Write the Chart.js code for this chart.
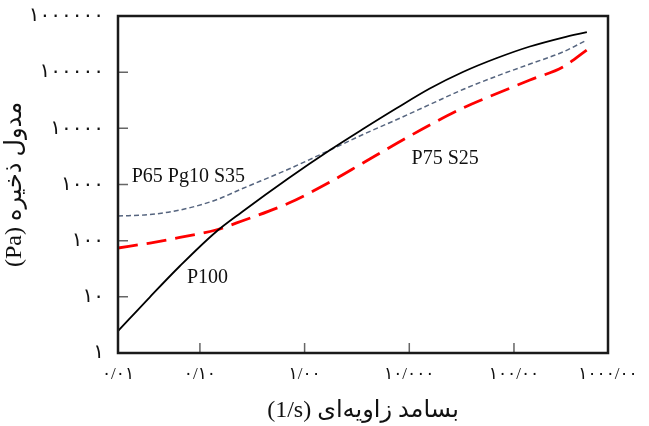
<!DOCTYPE html>
<html>
<head>
<meta charset="utf-8">
<script src="https://cdn.jsdelivr.net/npm/chart.js@4"></script>
<style>body { margin: 0; background: #fff; }</style>
</head>
<body>
<canvas id="modulusChart" width="649" height="426"></canvas>
<script>
// بسامد زاویه‌ای (1/s) - خوانده شده از تصویر
const frequencies = [0.0165, 0.0333, 0.0644, 0.142, 0.252, 0.708, 1.75, 3.61, 7.62, 15.7, 32.5, 68.7, 142, 293, 497];
// مدول ذخیره (Pa)
const p100 = [2.46, 9.93, 35.4, 143, 324, 1305, 4110, 9720, 23000, 51200, 100700, 178600, 286400, 414000, 518600];
const p65pg10s35 = [275, 292, 351, 530, 838, 1888, 4110, 7760, 14360, 26550, 49100, 85400, 139600, 228400, 373500];
const p75s25 = [74, 90.8, 114, 155, 224, 468, 1107, 2415, 5410, 11460, 23000, 41700, 72400, 123600, 247900];

const seriesNames = ['P100', 'P65 Pg10 S35', 'P75 S25'];

const xTickValues = [0.0165, 0.1, 1, 10, 100, 791];
const xTickLabels = ['۰/۰۱', '۰/۱۰', '۱/۰۰', '۱۰/۰۰۰', '۱۰۰/۰۰', '۱۰۰۰/۰۰'];
const yTickValues = [1, 10, 100, 1000, 10000, 100000, 1000000];
const yTickLabels = ['۱', '۱۰', '۱۰۰', '۱۰۰۰', '۱۰۰۰۰', '۱۰۰۰۰۰', '۱۰۰۰۰۰۰'];

// نام منحنی‌ها روی نمودار (در واحد داده)
const curveNotes = [
    { text: seriesNames[0], x: 0.0751, y: 17.6 },
    { text: seriesNames[1], x: 0.0223, y: 1107 },
    { text: seriesNames[2], x: 10.5, y: 2316 }
];

const toPoints = values => frequencies.map((f, i) => ({ x: f, y: values[i] }));
const fontFamily = '"Liberation Serif", "DejaVu Sans", serif';

// قاب، تیک‌های داخلی و برچسب منحنی‌ها
const framePlugin = {
    id: 'frame',
    afterDraw(chart) {
        const { ctx, chartArea: a, scales } = chart;
        ctx.save();
        ctx.strokeStyle = '#666';
        ctx.lineWidth = 1.5;
        ctx.beginPath();
        xTickValues.slice(1, -1).forEach(v => {
            const px = scales.x.getPixelForValue(v);
            ctx.moveTo(px, a.bottom);
            ctx.lineTo(px, a.bottom - 10);
        });
        yTickValues.forEach(v => {
            const py = scales.y.getPixelForValue(v);
            ctx.moveTo(a.left, py);
            ctx.lineTo(a.left + 10, py);
        });
        ctx.stroke();

        ctx.strokeStyle = '#1a1a1a';
        ctx.lineWidth = 2.5;
        ctx.strokeRect(a.left, a.top, a.right - a.left, a.bottom - a.top);

        ctx.fillStyle = '#111';
        ctx.font = '20px "Liberation Serif"';
        ctx.textAlign = 'left';
        ctx.textBaseline = 'alphabetic';
        curveNotes.forEach(n => {
            ctx.fillText(n.text, scales.x.getPixelForValue(n.x), scales.y.getPixelForValue(n.y));
        });
        ctx.restore();
    }
};

new Chart(document.getElementById('modulusChart'), {
    type: 'line',
    data: {
        datasets: [{
            label: seriesNames[0],
            data: toPoints(p100),
            borderColor: '#000000',
            borderWidth: 1.8
        }, {
            label: seriesNames[1],
            data: toPoints(p65pg10s35),
            borderColor: '#56657f',
            borderWidth: 1.5,
            borderDash: [5, 3]
        }, {
            label: seriesNames[2],
            data: toPoints(p75s25),
            borderColor: '#ff0000',
            borderWidth: 2.8,
            borderDash: [20, 9]
        }]
    },
    options: {
        responsive: false,
        animation: false,
        devicePixelRatio: 1,
        layout: { padding: { top: 16, right: 41, left: 0, bottom: 0 } },
        elements: {
            point: { radius: 0 },
            line: { cubicInterpolationMode: 'monotone', fill: false }
        },
        plugins: {
            legend: { display: false },
            tooltip: { enabled: false }
        },
        scales: {
            x: {
                type: 'logarithmic',
                min: xTickValues[0],
                max: xTickValues[xTickValues.length - 1],
                afterBuildTicks: s => { s.ticks = xTickValues.map(v => ({ value: v })); },
                afterFit: s => {
                    s.height = 73;
                    s.paddingLeft = 0;
                    s.paddingRight = 0;
                },
                grid: { display: false, drawTicks: false },
                border: { display: false },
                ticks: {
                    autoSkip: false,
                    maxRotation: 0,
                    padding: 11,
                    color: '#111',
                    font: { family: fontFamily, size: 17 },
                    callback: (v, i) => xTickLabels[i]
                },
                title: {
                    display: true,
                    text: '(1/s) بسامد زاویه\u200cای',
                    color: '#111',
                    font: { family: fontFamily, size: 24 },
                    padding: { top: 0, bottom: 1 }
                }
            },
            y: {
                type: 'logarithmic',
                min: yTickValues[0],
                max: yTickValues[yTickValues.length - 1],
                afterBuildTicks: s => { s.ticks = yTickValues.map(v => ({ value: v })); },
                afterFit: s => {
                    s.width = 118;
                    s.paddingTop = 0;
                    s.paddingBottom = 0;
                },
                grid: { display: false, drawTicks: false },
                border: { display: false },
                ticks: {
                    autoSkip: false,
                    padding: 14,
                    color: '#111',
                    font: { family: fontFamily, size: 20 },
                    callback: (v, i) => yTickLabels[i]
                },
                title: {
                    display: true,
                    text: '(Pa) مدول ذخیره',
                    color: '#111',
                    font: { family: fontFamily, size: 24 },
                    padding: { top: 0, bottom: 0 }
                }
            }
        }
    },
    plugins: [framePlugin]
});
</script>
</body>
</html>
